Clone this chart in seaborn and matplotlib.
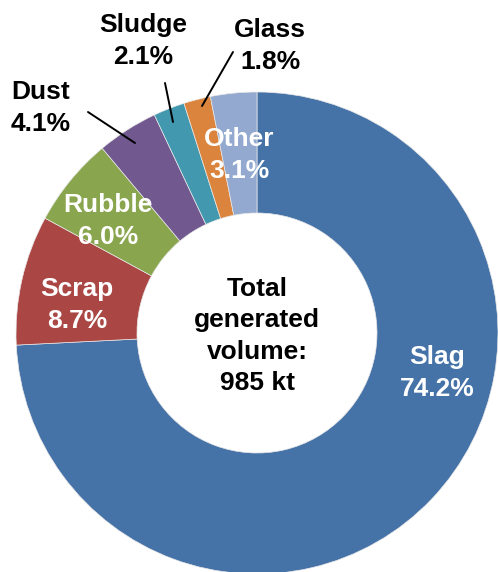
import matplotlib
matplotlib.use("Agg")
import matplotlib.pyplot as plt
import seaborn as sns

sns.set_theme(style="white")
plt.rcParams["font.family"] = ["Liberation Sans", "DejaVu Sans"]

# Waste streams and their share of the total generated volume (%)
categories = ["Slag", "Scrap", "Rubble", "Dust", "Sludge", "Glass", "Other"]
shares = [74.2, 8.7, 6.0, 4.1, 2.1, 1.8, 3.1]
colors = ["#4572A7", "#AA4643", "#89A54E", "#71588F", "#4198AF", "#DB843D", "#93A9CF"]
palette = sns.color_palette(colors)
center_text = "Total\ngenerated\nvolume:\n985 kt"

W, H = 498, 572
fig = plt.figure(figsize=(W / 100, H / 100), dpi=100)
ax = fig.add_axes([0, 0, 1, 1])
ax.set_xlim(0, W)
ax.set_ylim(0, H)
ax.axis("off")

cx, cy = 257, H - 333
r_out = 241
ax.pie(shares, colors=palette, startangle=90, counterclock=False,
       center=(cx, cy), radius=r_out,
       wedgeprops=dict(width=r_out - 120, edgecolor="#e8e8e8", linewidth=0.5))
ax.set_xlim(0, W)
ax.set_ylim(0, H)
ax.set_aspect("auto")

def lab(name, val):
    return f"{name}\n{val:.1f}%"

# label placement (pixel coordinates from top-left), colour, leader line
placements = {
    "Slag":   ((437, 373), "white", None),
    "Scrap":  ((77, 305), "white", None),
    "Rubble": ((108, 221), "white", None),
    "Dust":   ((41, 108), "black", ((88, 112), (135, 143))),
    "Sludge": ((143, 41), "black", ((165, 83), (173, 122))),
    "Glass":  ((270, 46), "black", ((233, 52), (202, 106))),
    "Other":  ((239, 155), "white", None),
}

FS = 19
LS = 1.38
for name, val in zip(categories, shares):
    (x, y), col, line = placements[name]
    ax.text(x, H - y, lab(name, val), ha="center", va="center", color=col,
            fontsize=FS, fontweight="bold", linespacing=LS)
    if line is not None:
        (x0, y0), (x1, y1) = line
        ax.plot([x0, x1], [H - y0, H - y1], color="black", lw=1.4)

ax.text(cx, H - 336, center_text, ha="center", va="center", color="black",
        fontsize=FS, fontweight="bold", linespacing=LS)

fig.savefig("out.png", dpi=100)
